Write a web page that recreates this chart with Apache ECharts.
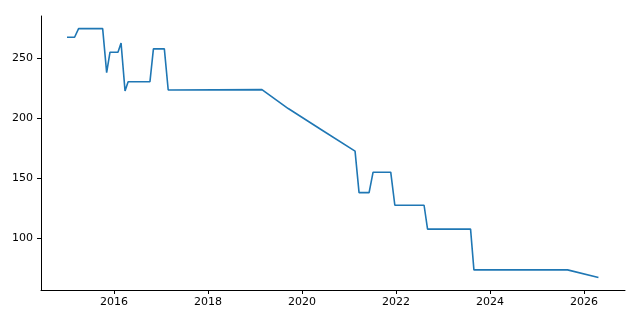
<!DOCTYPE html>
<html>
<head>
<meta charset="utf-8">
<script src="https://cdn.jsdelivr.net/npm/echarts@6/dist/echarts.min.js"></script>
<style>html,body{margin:0;padding:0;background:#fff;}#c{width:640px;height:320px;}</style>
</head>
<body>
<div id="c"></div>
<script>
const dates = ["2015-01-01","2015-03-01","2015-04-01","2015-10-05","2015-11-05","2015-12-01","2016-02-01","2016-02-25","2016-03-27","2016-04-20","2016-10-07","2016-11-03","2017-01-27","2017-02-26","2019-02-24","2019-09-16","2020-06-03","2021-02-17","2021-03-20","2021-06-06","2021-07-07","2021-11-21","2021-12-23","2022-08-07","2022-09-03","2023-08-03","2023-08-29","2025-08-26","2026-04-23"];
const values = [267.7,267.7,274.9,274.9,238.1,255.2,255.2,262.9,222.9,230.6,230.6,258.0,258.0,223.7,224.0,208.2,190.3,172.7,138.0,138.0,155.1,155.1,127.5,127.5,107.6,107.6,73.6,73.6,67.2];
const yTicks = [100,150,200,250];
const xTicks = [2016,2018,2020,2022,2024,2026];

function toYear(s){
  const d = new Date(s + 'T00:00:00Z');
  const y = d.getUTCFullYear();
  const a = Date.UTC(y,0,1), b = Date.UTC(y+1,0,1);
  return y + (d.getTime()-a)/(b-a);
}

const chart = echarts.init(document.getElementById('c'), null, {renderer:'canvas'});
const font = 'DejaVu Sans';
chart.setOption({
  animation:false,
  backgroundColor:'#fff',
  grid:{left:41, top:16, right:15, bottom:30, containLabel:false},
  xAxis:{
    type:'value',
    min:2014.447, max:2026.872,
    splitLine:{show:false},
    axisLine:{show:true, onZero:false, lineStyle:{color:'#000', width:1}},
    axisTick:{show:true, length:4, inside:false, lineStyle:{color:'#000', width:1}, customValues: xTicks},
    axisLabel:{show:true, margin:7, color:'#000', fontFamily:font, fontSize:11, customValues: xTicks,
      formatter: v => String(Math.round(v))}
  },
  yAxis:{
    type:'value',
    min:56.8, max:285.4,
    splitLine:{show:false},
    axisLine:{show:true, onZero:false, lineStyle:{color:'#000', width:1}},
    axisTick:{show:true, length:4, lineStyle:{color:'#000', width:1}, customValues: yTicks},
    axisLabel:{show:true, margin:8, color:'#000', fontFamily:font, fontSize:11, customValues: yTicks}
  },
  series:[{
    type:'line',
    data: dates.map((d,i)=>[toYear(d), values[i]]),
    showSymbol:false,
    symbol:'none',
    lineStyle:{color:'#1f77b4', width:1.6},
    itemStyle:{color:'#1f77b4'}
  }]
});
</script>
</body>
</html>
